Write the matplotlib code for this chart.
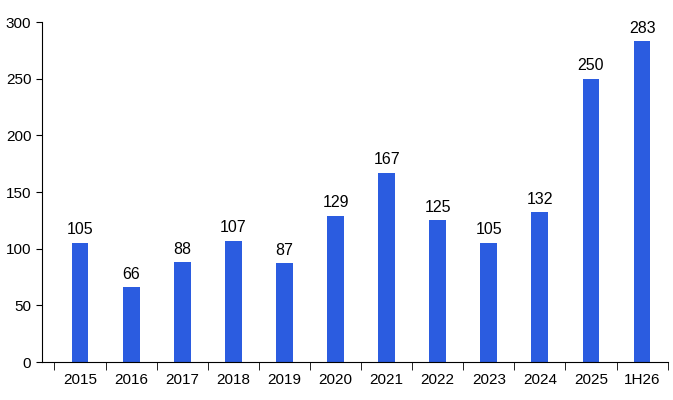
import matplotlib
matplotlib.use('Agg')
import matplotlib.pyplot as plt
import numpy as np

categories = ['2015', '2016', '2017', '2018', '2019', '2020', '2021', '2022', '2023', '2024', '2025', '1H26']
values = [105, 66, 88, 107, 87, 129, 167, 125, 105, 132, 250, 283]

plt.rcParams['font.family'] = ['Liberation Sans Narrow', 'Liberation Sans', 'DejaVu Sans']

fig = plt.figure(figsize=(6.73, 4.0), dpi=100)
ax = fig.add_axes([0.062, 0.095, 0.93, 0.85])

x = np.arange(len(categories))
ax.bar(x, values, width=0.33, color='#2B5CE0')
for xi, v in zip(x, values):
    ax.text(xi, v + 5, str(v), ha='center', va='bottom', fontsize=11.5)

ax.set_xlim(-0.75, len(categories) - 0.5)
ax.set_ylim(0, 300)
ax.set_yticks(range(0, 301, 50))
ax.set_xticks(x)
ax.set_xticklabels(categories)
ax.set_xticks(np.arange(-0.5, len(categories), 1), minor=True)
ax.tick_params(axis='x', which='major', length=0, labelsize=11, pad=8)
ax.tick_params(axis='x', which='minor', length=6, direction='out')
ax.tick_params(axis='y', labelsize=11, length=4, direction='out')
for s in ['top', 'right']:
    ax.spines[s].set_visible(False)

fig.savefig('out.png', dpi=100)
